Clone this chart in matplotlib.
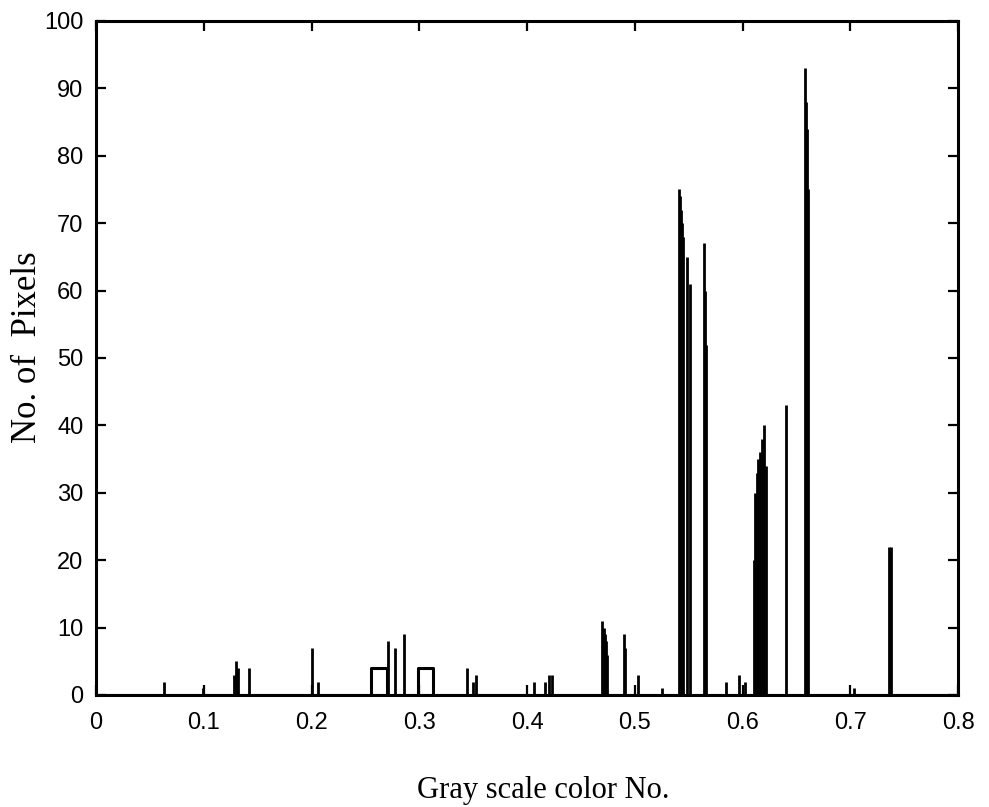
import numpy as np
import matplotlib
matplotlib.use("Agg")
import matplotlib.pyplot as plt

# Histogram spikes: gray level and pixel count
spike_gray = [0.063, 0.099, 0.128, 0.130, 0.132, 0.142, 0.200, 0.206,
              0.271, 0.277, 0.286, 0.344, 0.350, 0.353,
              0.406, 0.417, 0.420, 0.423,
              0.470, 0.471, 0.472, 0.473, 0.474, 0.490, 0.491, 0.503, 0.525,
              0.541, 0.542, 0.543, 0.544, 0.545, 0.548, 0.551,
              0.564, 0.565, 0.566,
              0.585, 0.597, 0.602,
              0.611, 0.612, 0.613, 0.614, 0.616, 0.618, 0.620, 0.622, 0.640,
              0.658, 0.659, 0.660, 0.661,
              0.703, 0.736, 0.737, 0.738]
spike_count = [2, 1, 3, 5, 4, 4, 7, 2,
               8, 7, 9, 4, 2, 3,
               2, 2, 3, 3,
               11, 10, 9, 8, 6, 9, 7, 3, 1,
               75, 74, 72, 70, 68, 65, 61,
               67, 60, 52,
               2, 3, 2,
               20, 30, 33, 35, 36, 38, 40, 34, 43,
               93, 88, 84, 75,
               1, 22, 16, 22]

# Flat runs of equal counts: start, end, count
run_start = [0.2555, 0.2986]
run_end = [0.2700, 0.3125]
run_count = [4, 4]

x_ticks = [0, 0.1, 0.2, 0.3, 0.4, 0.5, 0.6, 0.7, 0.8]
x_tick_labels = ["0", "0.1", "0.2", "0.3", "0.4", "0.5", "0.6", "0.7", "0.8"]
y_ticks = list(range(0, 101, 10))

fig = plt.figure(figsize=(9.89, 8.07), dpi=100)
ax = fig.add_axes([0.0971, 0.1388, 0.8716, 0.8352])

# zero line, spikes and flat runs
ax.plot([0, 0.8], [0, 0], color="black", lw=2.2)
ax.vlines(spike_gray, 0, spike_count, color="black", lw=2.0)
for a, b, c in zip(run_start, run_end, run_count):
    ax.plot([a, a, b, b], [0, c, c, 0], color="black", lw=2.2)

ax.set_xlim(0, 0.8)
ax.set_ylim(0, 100)
ax.set_xticks(x_ticks)
ax.set_xticklabels(x_tick_labels)
ax.set_yticks(y_ticks)

for s in ax.spines.values():
    s.set_linewidth(2.2)
ax.tick_params(direction="in", length=7, width=1.6, top=True, right=True,
               labelsize=17, pad=9)
ax.tick_params(axis="x", pad=12)
for lab in ax.get_xticklabels() + ax.get_yticklabels():
    lab.set_family("Liberation Sans")

fig.text(0.549, 0.021, "Gray scale color No.", family="Liberation Serif",
         fontsize=22, ha="center", va="center")
fig.text(0.028, 0.57, "No. of  Pixels", family="Liberation Serif",
         fontsize=25, ha="center", va="center", rotation=90)

fig.savefig("out.png", dpi=100)
